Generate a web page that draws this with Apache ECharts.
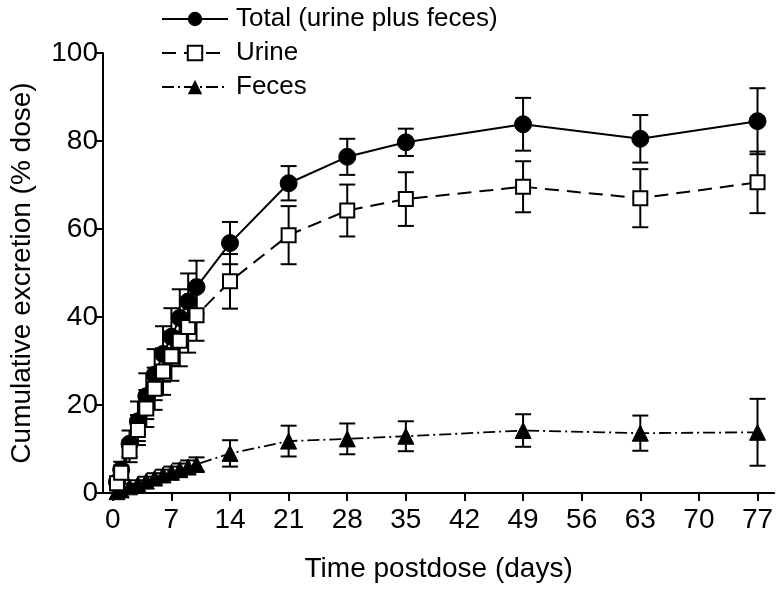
<!DOCTYPE html>
<html>
<head>
<meta charset="utf-8">
<script src="https://cdn.jsdelivr.net/npm/echarts@6/dist/echarts.min.js"></script>
<style>
html,body{margin:0;padding:0;background:#fff;}
#chart{width:776px;height:590px;}
</style>
</head>
<body>
<div id="chart"></div>
<script>
const days = [0.5, 1, 2, 3, 4, 5, 6, 7, 8, 9, 10, 14, 21, 28, 35, 49, 63, 77];
const totalMean = [2.5, 5.3, 11.2, 16.3, 22.0, 26.9, 31.6, 35.5, 39.8, 43.5, 46.8, 56.8, 70.4, 76.4, 79.7, 83.8, 80.5, 84.5];
const totalSD   = [1.2, 1.8, 3.0, 4.5, 5.2, 5.8, 6.3, 6.5, 6.5, 6.4, 6.0, 4.8, 3.9, 4.1, 3.1, 6.0, 5.4, 7.5];
const urineMean = [2.2, 4.6, 9.5, 14.3, 19.2, 23.7, 27.6, 31.1, 34.6, 37.7, 40.4, 48.1, 58.6, 64.2, 66.8, 69.6, 67.0, 70.6];
const urineSD   = [1.0, 1.6, 2.5, 3.4, 4.2, 4.8, 5.3, 5.6, 5.8, 5.8, 5.8, 6.2, 6.6, 5.9, 6.1, 5.8, 6.6, 7.0];
const fecesMean = [0.3, 0.7, 1.4, 2.0, 2.7, 3.4, 4.1, 4.7, 5.3, 5.9, 6.5, 9.0, 11.8, 12.3, 12.9, 14.2, 13.6, 13.8];
const fecesSD   = [0.3, 0.5, 0.7, 0.9, 1.0, 1.1, 1.2, 1.3, 1.4, 1.5, 1.6, 3.0, 3.5, 3.5, 3.4, 3.7, 4.0, 7.6];
const xTicks = [0, 7, 14, 21, 28, 35, 42, 49, 56, 63, 70, 77];
const seriesNames = ['Total (urine plus feces)', 'Urine', 'Feces'];

const FONT = 'Liberation Sans, Arial, sans-serif';

function pts(mean) { return days.map((d, i) => [d, mean[i]]); }
function errData(mean, sd) { return days.map((d, i) => [d, mean[i], sd[i]]); }

function errRender(params, api) {
  const x = api.value(0), y = api.value(1), s = api.value(2);
  const top = api.coord([x, y + s]);
  const bot = api.coord([x, y - s]);
  const hw = 8;
  const style = { stroke: '#000', lineWidth: 2 };
  return {
    type: 'group',
    children: [
      { type: 'line', shape: { x1: top[0], y1: top[1], x2: bot[0], y2: bot[1] }, style },
      { type: 'line', shape: { x1: top[0] - hw, y1: top[1], x2: top[0] + hw, y2: top[1] }, style },
      { type: 'line', shape: { x1: bot[0] - hw, y1: bot[1], x2: bot[0] + hw, y2: bot[1] }, style }
    ]
  };
}

const chart = echarts.init(document.getElementById('chart'), null, { renderer: 'canvas' });
chart.setOption({
  animation: false,
  backgroundColor: '#fff',
  textStyle: { fontFamily: FONT },
  grid: { left: 99, right: 0, top: 53, bottom: 97, containLabel: false },
  legend: {
    data: seriesNames,
    orient: 'vertical',
    left: 156,
    top: 1,
    itemWidth: 66,
    itemHeight: 18,
    itemGap: 8,
    textStyle: { fontSize: 26, color: '#000', fontFamily: FONT, lineHeight: 26, padding: [0, 0, 0, 3] }
  },
  xAxis: {
    type: 'value',
    min: -1.17,
    max: 79,
    name: 'Time postdose (days)',
    nameLocation: 'middle',
    nameGap: 62,
    nameTextStyle: { fontSize: 28, color: '#000', fontFamily: FONT },
    axisLine: { show: true, onZero: false, lineStyle: { color: '#000', width: 2 } },
    axisTick: { show: true, inside: false, length: 8, lineStyle: { color: '#000', width: 2 }, customValues: xTicks },
    axisLabel: { fontSize: 28, color: '#000', margin: 13, fontFamily: FONT, customValues: xTicks },
    splitLine: { show: false }
  },
  yAxis: {
    type: 'value',
    min: 0,
    max: 100,
    interval: 20,
    name: 'Cumulative excretion (% dose)',
    nameLocation: 'middle',
    nameGap: 67,
    nameTextStyle: { fontSize: 28, color: '#000', fontFamily: FONT },
    axisLine: { show: true, onZero: false, lineStyle: { color: '#000', width: 2 } },
    axisTick: { show: true, inside: false, length: 8, lineStyle: { color: '#000', width: 2 } },
    axisLabel: { fontSize: 28, color: '#000', margin: 5, fontFamily: FONT },
    splitLine: { show: false }
  },
  series: [
    {
      name: 'Feces err', type: 'custom', renderItem: errRender, data: errData(fecesMean, fecesSD),
      encode: { x: 0, y: 1 }, z: 1, silent: true
    },
    {
      name: 'Total err', type: 'custom', renderItem: errRender, data: errData(totalMean, totalSD),
      encode: { x: 0, y: 1 }, z: 1, silent: true
    },
    {
      name: 'Urine err', type: 'custom', renderItem: errRender, data: errData(urineMean, urineSD),
      encode: { x: 0, y: 1 }, z: 1, silent: true
    },
    {
      name: seriesNames[2], type: 'line', data: pts(fecesMean), z: 3,
      symbol: 'triangle', symbolSize: 16,
      lineStyle: { color: '#000', width: 1.8, type: [12, 4, 2, 4] },
      itemStyle: { color: '#000', borderColor: '#000' }
    },
    {
      name: seriesNames[0], type: 'line', data: pts(totalMean), z: 4,
      symbol: 'circle', symbolSize: 17,
      lineStyle: { color: '#000', width: 2, type: 'solid' },
      itemStyle: { color: '#000', borderColor: '#000' }
    },
    {
      name: seriesNames[1], type: 'line', data: pts(urineMean), z: 5,
      symbol: 'rect', symbolSize: 14,
      lineStyle: { color: '#000', width: 2, type: [14, 8] },
      itemStyle: { color: '#fff', borderColor: '#000', borderWidth: 2 }
    }
  ]
});
</script>
</body>
</html>
